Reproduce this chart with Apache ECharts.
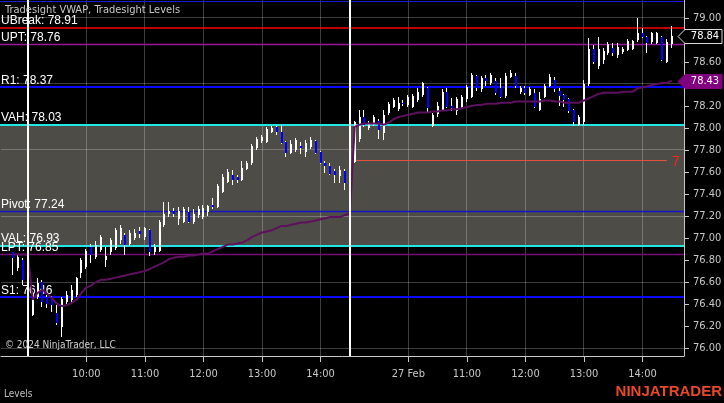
<!DOCTYPE html>
<html>
<head>
<meta charset="utf-8">
<title>Tradesight VWAP, Tradesight Levels</title>
<script src="https://cdn.jsdelivr.net/npm/echarts@6/dist/echarts.min.js"></script>
<style>
html,body{margin:0;padding:0;background:#000;}
#chart{width:724px;height:403px;}
</style>
</head>
<body>
<div id="chart"></div>
<script>
// ---------------- DATA ----------------
// trading sessions: [day, first bar time, number of 5-minute bars]
const sessions = [['23 Feb', '14:05', 6], ['26 Feb', '09:05', 66], ['27 Feb', '09:05', 66]];
const rightPadBars = ['pad1', 'pad2'];

const open = [null, null,
  76.87, 76.73, 76.80, 76.62,
  76.30, 76.46, 76.60, 76.46, 76.45, 76.32, 76.19, 76.42, 76.44, 76.48,
  76.68, 76.74, 76.92, 76.83, 76.89, 76.80, 76.87, 76.91, 76.98, 77.03,
  76.95, 77.00, 77.06, 77.01, 77.07, 76.87, 76.88, 77.12, 77.22, 77.25,
  77.17, 77.15, 77.24, 77.15, 77.21, 77.19, 77.24, 77.30, 77.28, 77.42,
  77.51, 77.57, 77.55, 77.53, 77.63, 77.68, 77.82, 77.88, 77.87, 77.96,
  78.01, 77.96, 77.87, 77.77, 77.80, 77.84, 77.78, 77.83, 77.88, 77.78,
  77.68, 77.65, 77.61, 77.56, 77.61, 77.51,
  77.69, 77.90, 78.10, 78.00, 78.03, 78.06, 77.95, 78.14, 78.19, 78.17,
  78.23, 78.21, 78.19, 78.25, 78.30, 78.36, 78.02, 78.13, 78.16, 78.33,
  78.20, 78.15, 78.19, 78.26, 78.28, 78.47, 78.35, 78.45, 78.41, 78.43,
  78.36, 78.29, 78.46, 78.47, 78.33, 78.36, 78.30, 78.32, 78.16, 78.28,
  78.38, 78.44, 78.34, 78.30, 78.26, 78.16, 78.03, 78.05, 78.40, 78.72,
  78.56, 78.62, 78.68, 78.73, 78.66, 78.69, 78.71, 78.72, 78.80, 78.86,
  78.83, 78.78, 78.77, 78.83, 78.60, 78.76];

const high = [null, null,
  76.87, 76.85, 76.82, 76.64,
  76.52, 76.64, 76.62, 76.48, 76.47, 76.39, 76.46, 76.52, 76.57, 76.65,
  76.82, 76.90, 76.95, 76.97, 77.03, 76.92, 77.00, 77.09, 77.12, 77.05,
  77.07, 77.08, 77.10, 77.10, 77.08, 76.95, 77.16, 77.33, 77.33, 77.27,
  77.28, 77.28, 77.28, 77.26, 77.29, 77.30, 77.30, 77.36, 77.49, 77.58,
  77.63, 77.62, 77.57, 77.70, 77.70, 77.85, 77.92, 77.94, 78.01, 78.02,
  78.02, 78.03, 77.88, 77.89, 77.91, 77.87, 77.89, 77.92, 77.89, 77.79,
  77.70, 77.68, 77.63, 77.65, 77.63, 77.58,
  78.06, 78.16, 78.16, 78.06, 78.12, 78.08, 78.16, 78.24, 78.27, 78.28,
  78.25, 78.30, 78.31, 78.36, 78.42, 78.37, 78.14, 78.24, 78.35, 78.36,
  78.27, 78.28, 78.30, 78.39, 78.50, 78.48, 78.47, 78.48, 78.50, 78.45,
  78.45, 78.50, 78.53, 78.50, 78.38, 78.38, 78.37, 78.35, 78.33, 78.40,
  78.49, 78.46, 78.36, 78.31, 78.27, 78.17, 78.12, 78.44, 78.82, 78.75,
  78.83, 78.73, 78.78, 78.77, 78.77, 78.74, 78.81, 78.80, 79.00, 78.91,
  78.84, 78.87, 78.87, 78.84, 78.81, 78.93];

const low = [null, null,
  76.66, 76.70, 76.57, 76.45,
  76.29, 76.45, 76.37, 76.36, 76.33, 76.21, 76.10, 76.40, 76.42, 76.46,
  76.64, 76.72, 76.77, 76.81, 76.87, 76.74, 76.85, 76.89, 76.95, 76.85,
  76.93, 76.98, 77.00, 76.98, 76.84, 76.85, 76.87, 77.10, 77.19, 77.19,
  77.12, 77.14, 77.14, 77.13, 77.18, 77.17, 77.20, 77.26, 77.27, 77.41,
  77.50, 77.48, 77.50, 77.52, 77.62, 77.66, 77.80, 77.86, 77.86, 77.95,
  77.94, 77.85, 77.74, 77.76, 77.78, 77.76, 77.74, 77.81, 77.76, 77.67,
  77.59, 77.57, 77.50, 77.50, 77.44, 77.49,
  77.68, 77.87, 78.01, 77.98, 78.02, 77.90, 77.89, 78.12, 78.18, 78.15,
  78.20, 78.19, 78.18, 78.24, 78.28, 78.14, 78.01, 78.10, 78.15, 78.18,
  78.15, 78.12, 78.17, 78.24, 78.27, 78.34, 78.33, 78.38, 78.39, 78.30,
  78.27, 78.27, 78.45, 78.36, 78.31, 78.30, 78.29, 78.18, 78.15, 78.27,
  78.37, 78.33, 78.20, 78.19, 78.14, 78.02, 78.02, 78.03, 78.38, 78.58,
  78.54, 78.58, 78.66, 78.65, 78.64, 78.67, 78.70, 78.71, 78.78, 78.82,
  78.68, 78.76, 78.76, 78.61, 78.59, 78.73];

const close = [null, null,
  76.82, 76.83, 76.62, 76.48,
  76.50, 76.59, 76.42, 76.40, 76.39, 76.23, 76.45, 76.48, 76.53, 76.64,
  76.80, 76.88, 76.85, 76.94, 77.01, 76.84, 76.98, 77.07, 77.09, 76.94,
  77.05, 77.05, 77.04, 77.09, 76.87, 76.92, 77.15, 77.22, 77.25, 77.22,
  77.25, 77.26, 77.15, 77.22, 77.26, 77.27, 77.29, 77.28, 77.47, 77.55,
  77.60, 77.53, 77.53, 77.64, 77.68, 77.84, 77.90, 77.92, 77.99, 78.00,
  77.96, 77.86, 77.77, 77.85, 77.89, 77.82, 77.86, 77.89, 77.77, 77.68,
  77.65, 77.58, 77.57, 77.62, 77.50, 77.56,
  78.05, 78.10, 78.03, 78.04, 78.10, 77.98, 78.12, 78.22, 78.25, 78.23,
  78.22, 78.28, 78.29, 78.33, 78.41, 78.18, 78.12, 78.20, 78.33, 78.19,
  78.18, 78.26, 78.28, 78.37, 78.48, 78.36, 78.45, 78.43, 78.48, 78.32,
  78.28, 78.47, 78.50, 78.38, 78.36, 78.32, 78.35, 78.19, 78.26, 78.38,
  78.46, 78.35, 78.29, 78.25, 78.15, 78.05, 78.10, 78.40, 78.72, 78.60,
  78.72, 78.70, 78.76, 78.68, 78.74, 78.72, 78.79, 78.79, 78.86, 78.83,
  78.77, 78.86, 78.86, 78.62, 78.78, 78.84];

const vwap = [null, null,
  76.85, 76.85, 76.85, 76.85,
  76.44, 76.50, 76.53, 76.49, 76.45, 76.40, 76.38, 76.39, 76.41, 76.44,
  76.50, 76.55, 76.57, 76.60, 76.62, 76.62, 76.63, 76.64, 76.65, 76.66,
  76.67, 76.68, 76.69, 76.70, 76.72, 76.74, 76.76, 76.78, 76.81, 76.82,
  76.83, 76.83, 76.84, 76.84, 76.85, 76.86, 76.86, 76.88, 76.90, 76.92,
  76.94, 76.94, 76.95, 76.96, 76.98, 77.01, 77.03, 77.05, 77.06, 77.07,
  77.09, 77.11, 77.11, 77.12, 77.13, 77.14, 77.14, 77.15, 77.16, 77.17,
  77.18, 77.19, 77.19, 77.19, 77.21, 77.22,
  78.01, 78.03, 78.04, 78.04, 78.04, 78.04, 78.03, 78.05, 78.08, 78.10,
  78.11, 78.12, 78.13, 78.14, 78.14, 78.14, 78.15, 78.15, 78.16, 78.16,
  78.17, 78.17, 78.18, 78.19, 78.20, 78.21, 78.21, 78.22, 78.22, 78.22,
  78.23, 78.23, 78.23, 78.24, 78.24, 78.24, 78.24, 78.24, 78.24, 78.25,
  78.25, 78.24, 78.24, 78.23, 78.23, 78.23, 78.23, 78.25, 78.27, 78.29,
  78.31, 78.32, 78.32, 78.32, 78.32, 78.33, 78.33, 78.33, 78.36, 78.37,
  78.38, 78.39, 78.40, 78.41, 78.41, 78.43];

// Tradesight levels
const levelNames  = ['R2', 'UBreak', 'UPT', 'R1', 'VAH', 'Pivot', 'VAL', 'LPT', 'S1'];
const levelValues = [79.15, 78.91, 78.76, 78.37, 78.03, 77.24, 76.93, 76.85, 76.46];
const valueArea   = [76.93, 78.03];
// short red level line
const gapLineValue = 77.70;
const gapLineRange = ['27 Feb 09:05', '27 Feb 14:25'];
const gapLineText  = '7';

// axis ticks
const xTickCats   = ['26 Feb 10:00', '26 Feb 11:00', '26 Feb 12:00', '26 Feb 13:00', '26 Feb 14:00',
                     '27 Feb 10:00', '27 Feb 11:00', '27 Feb 12:00', '27 Feb 13:00', '27 Feb 14:00'];
const xTickLabels = ['10:00', '11:00', '12:00', '13:00', '14:00', '27 Feb', '11:00', '12:00', '13:00', '14:00'];
const sessionBreaks = ['23 Feb 14:30', '26 Feb 14:30'];
const yTickValues = [76.00, 76.20, 76.40, 76.60, 76.80, 77.00, 77.20, 77.40, 77.60, 77.80,
                     78.00, 78.20, 78.40, 78.60, 78.80, 79.00];
const yGridValues = [76.00, 76.60, 77.20, 77.80, 78.40, 79.00];

const titleText = 'Tradesight VWAP, Tradesight Levels';
const copyrightText = '\u00a9 2024 NinjaTrader, LLC';
const panelText = 'Levels';
const logoText = 'NINJATRADER';

// ---------------- BUILD ----------------
const categories = [];
sessions.forEach(([day, start, n]) => {
  const [h, m] = start.split(':').map(Number);
  for (let k = 0; k < n; k++) {
    const t = h * 60 + m + 5 * k;
    categories.push(day + ' ' + String(Math.floor(t / 60)).padStart(2, '0') + ':' + String(t % 60).padStart(2, '0'));
  }
});
rightPadBars.forEach(p => categories.push(p));

const candleRows = [];
for (let i = 0; i < open.length; i++) {
  if (open[i] == null) continue;
  candleRows.push([i, open[i], high[i], low[i], close[i]]);
}
const lastIdx = open.length - 1;
const lastClose = close[lastIdx];
const lastVwap = vwap[lastIdx];

const FONT_N = '"Liberation Sans Narrow", "Arial Narrow", "DejaVu Sans Condensed", sans-serif';
const FONT_R = '"Liberation Sans", Arial, sans-serif';
const GRID_COLOR = 'rgba(255,255,255,0.24)';
const levelStyles = [
  { color: '#1a1ad8', width: 1, label: false },
  { color: '#ff0000', width: 1.5, label: true },
  { color: '#9a169a', width: 1.5, label: true },
  { color: '#0a0aff', width: 2, label: true },
  { color: '#22e6e6', width: 2, label: true },
  { color: '#1414c8', width: 1.5, label: true },
  { color: '#22e6e6', width: 2, label: true },
  { color: '#7a0c7a', width: 1.5, label: true },
  { color: '#0a0aff', width: 2, label: true }
];

const isTick = (idx, value) => xTickCats.indexOf(value) >= 0;
const crisp = (v, w) => (Math.round(w) % 2 === 1) ? Math.floor(v) + 0.5 : Math.round(v);

const chart = echarts.init(document.getElementById('chart'), null, { renderer: 'canvas' });

const option = {
  backgroundColor: '#000000',
  animation: false,
  grid: { left: 1, top: 0, width: 683, height: 356, containLabel: false, outerBoundsMode: 'none' },
  xAxis: {
    type: 'category',
    data: categories,
    boundaryGap: true,
    axisLine: { show: true, lineStyle: { color: '#c8c8c8', width: 1 } },
    axisTick: { show: true, alignWithLabel: true, length: 6, interval: isTick, lineStyle: { color: '#c8c8c8' } },
    axisLabel: {
      show: true, interval: isTick, margin: 13, color: '#c8c8c8', fontFamily: FONT_N, fontSize: 11,
      formatter: (v) => { const k = xTickCats.indexOf(v); return k >= 0 ? xTickLabels[k] : ''; }
    },
    splitLine: { show: false }
  },
  yAxis: {
    type: 'value',
    position: 'right',
    min: 75.9273,
    max: 79.1636,
    axisLine: { show: true, lineStyle: { color: '#c8c8c8', width: 1 } },
    axisTick: { show: true, length: 5, customValues: yTickValues, lineStyle: { color: '#c8c8c8' } },
    axisLabel: { show: true, customValues: yTickValues, margin: 9, color: '#c8c8c8', fontFamily: FONT_N, fontSize: 11,
                 formatter: (v) => Number(v).toFixed(2) },
    splitLine: { show: false }
  },
  graphic: [
    { type: 'text', left: 5, top: 5, z: 100, style: { text: titleText, fill: '#c8c8c8', font: '11px ' + FONT_N } },
    { type: 'text', left: 5, top: 340, z: 100, style: { text: copyrightText, fill: '#d0d0d0', font: '10px ' + FONT_N } },
    { type: 'text', left: 4, top: 389, z: 100, style: { text: panelText, fill: '#c0c0c0', font: '10px ' + FONT_N } },
    { type: 'text', right: 2, top: 384, z: 100, style: { text: logoText, fill: '#e8482c', font: 'bold 15px ' + FONT_R } }
  ],
  series: [
    { // value area box
      type: 'custom', z: 1, silent: true,
      data: [[0, valueArea[0], valueArea[1]]],
      encode: { x: 0, y: [1, 2] },
      renderItem: (params, api) => {
        const cs = params.coordSys;
        const y1 = api.coord([0, api.value(2)])[1];
        const y2 = api.coord([0, api.value(1)])[1];
        return { type: 'rect', shape: { x: cs.x - 1, y: y1, width: cs.width + 1, height: y2 - y1 },
                 style: { fill: '#4e4c46' } };
      }
    },
    { // grid lines (horizontal)
      type: 'custom', z: 2, silent: true,
      data: yGridValues.map(v => [0, v]),
      encode: { x: 0, y: 1 },
      renderItem: (params, api) => {
        const cs = params.coordSys;
        const y = crisp(api.coord([0, api.value(1)])[1], 1);
        return { type: 'line', shape: { x1: cs.x, y1: y, x2: cs.x + cs.width, y2: y },
                 style: { stroke: GRID_COLOR, lineWidth: 1 } };
      }
    },
    { // grid lines (vertical, at hour ticks)
      type: 'custom', z: 2, silent: true,
      data: xTickCats.map(c => [categories.indexOf(c), yGridValues[0]]),
      encode: { x: 0, y: 1 },
      renderItem: (params, api) => {
        const cs = params.coordSys;
        const x = crisp(api.coord([api.value(0), api.value(1)])[0], 1);
        return { type: 'line', shape: { x1: x, y1: cs.y, x2: x, y2: cs.y + cs.height },
                 style: { stroke: GRID_COLOR, lineWidth: 1 } };
      }
    },
    { // level lines with labels
      type: 'custom', z: 3, silent: true,
      data: levelValues.map((v, k) => [0, v, k]),
      encode: { x: 0, y: 1 },
      renderItem: (params, api) => {
        const cs = params.coordSys;
        const v = api.value(1), k = api.value(2);
        const st = levelStyles[k];
        const y = api.coord([0, v])[1];
        const yy = st.width === 1.5 ? y : crisp(y, st.width);
        const children = [{ type: 'line', shape: { x1: cs.x - 1, y1: yy, x2: cs.x + cs.width, y2: yy },
                            style: { stroke: st.color, lineWidth: st.width } }];
        if (st.label) {
          children.push({ type: 'text', style: { text: levelNames[k] + ': ' + v.toFixed(2), x: cs.x, y: y - 7,
                          fill: '#ffffff', font: '12px ' + FONT_R, align: 'left', verticalAlign: 'middle' } });
        }
        return { type: 'group', children };
      }
    },
    { // short red line
      type: 'custom', z: 3, silent: true,
      data: [[categories.indexOf(gapLineRange[0]), categories.indexOf(gapLineRange[1]), gapLineValue]],
      encode: { x: [0, 1], y: 2 },
      renderItem: (params, api) => {
        const p1 = api.coord([api.value(0), api.value(2)]);
        const p2 = api.coord([api.value(1), api.value(2)]);
        const y = crisp(p1[1], 1);
        return { type: 'group', children: [
          { type: 'line', shape: { x1: p1[0], y1: y, x2: p2[0], y2: y }, style: { stroke: '#e2503e', lineWidth: 1 } },
          { type: 'text', style: { text: gapLineText, x: p2[0] + 5, y: p1[1] + 1, fill: '#ff2020',
                                   font: '14px ' + FONT_R, align: 'left', verticalAlign: 'middle' } }
        ] };
      }
    },
    { // candles
      type: 'custom', z: 4, silent: true,
      data: candleRows,
      encode: { x: 0, y: [1, 2, 3, 4] },
      renderItem: (params, api) => {
        const i = api.value(0), o = api.value(1), h = api.value(2), l = api.value(3), c = api.value(4);
        const pO = api.coord([i, o]), pC = api.coord([i, c]);
        const pH = api.coord([i, h]), pL = api.coord([i, l]);
        const cx = Math.round(pO[0]);
        const up = c >= o;
        const top = Math.round(Math.min(pO[1], pC[1]));
        const bot = Math.round(Math.max(pO[1], pC[1]));
        const wt = Math.round(pH[1]), wb = Math.round(pL[1]);
        return { type: 'group', children: [
          { type: 'rect', shape: { x: cx - 1, y: wt, width: 1, height: Math.max(1, wb - wt) }, style: { fill: '#ffffff' } },
          { type: 'rect', shape: { x: cx - 1, y: top, width: 2, height: Math.max(1, bot - top) },
            style: { fill: up ? '#ffffff' : '#0000ff' } }
        ] };
      }
    },
    { // VWAP
      type: 'line', z: 5, silent: true,
      data: vwap,
      showSymbol: false, symbol: 'none', connectNulls: false,
      lineStyle: { color: '#5e105e', width: 2 }
    },
    { // session breaks
      type: 'custom', z: 6, silent: true,
      data: sessionBreaks.map(c => [categories.indexOf(c), yGridValues[0]]),
      encode: { x: 0, y: 1 },
      renderItem: (params, api) => {
        const cs = params.coordSys;
        const x = Math.round(api.coord([api.value(0), api.value(1)])[0]);
        return { type: 'rect', shape: { x: x - 1, y: cs.y, width: 2, height: cs.height }, style: { fill: '#ffffff' } };
      }
    },
    { // right side price markers
      type: 'custom', z: 7, silent: true,
      data: [[lastIdx, lastClose, 0], [lastIdx, lastVwap, 1]],
      encode: { x: 0, y: 1 },
      renderItem: (params, api) => {
        const cs = params.coordSys;
        const v = api.value(1), kind = api.value(2);
        const y = Math.round(api.coord([api.value(0), v])[1]) + 0.5;
        const x0 = cs.x + cs.width;
        const fill = kind === 0 ? '#000000' : '#800080';
        const stroke = kind === 0 ? '#d8d8d8' : '#800080';
        return { type: 'group', children: [
          { type: 'polygon', shape: { points: [[x0 - 6, y], [x0 + 1, y - 7], [x0 + 38, y - 7], [x0 + 38, y + 7], [x0 + 1, y + 7]] },
            style: { fill: fill, stroke: stroke, lineWidth: 1 } },
          { type: 'text', style: { text: v.toFixed(2), x: x0 + 21, y: y, fill: '#ffffff',
                                   font: '11px ' + FONT_N, align: 'center', verticalAlign: 'middle' } }
        ] };
      }
    }
  ]
};
chart.setOption(option);
</script>
</body>
</html>
